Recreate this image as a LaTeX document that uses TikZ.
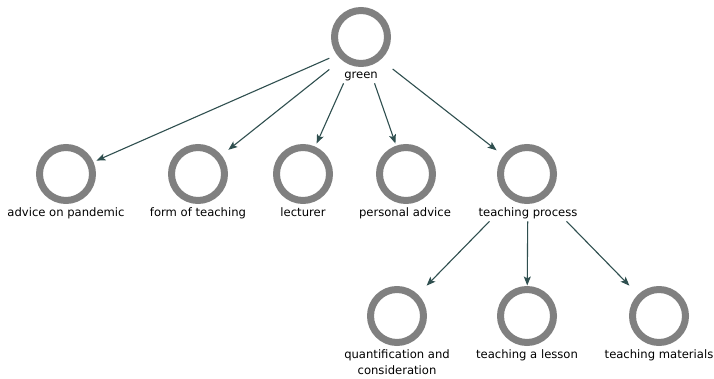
\documentclass[tikz,border=0pt]{standalone}
\usepackage{fontspec}
\setmainfont{DejaVu Sans}
\usetikzlibrary{arrows.meta,fit}
\definecolor{ringgray}{RGB}{128,128,128}
\definecolor{arrowcol}{RGB}{47,79,79}
\tikzset{
  ring/.style={rectangle, minimum size=60pt, inner sep=0pt, outer sep=0pt,
    path picture={\draw[ringgray, line width=7pt] (path picture bounding box.center) circle (26.5pt);}},
  lbl/.style={anchor=base, font=\fontsize{11.6}{15.5}\selectfont, inner sep=0pt, align=center},
  srcbox/.style={inner sep=1.5pt, draw=none},
  arr/.style={draw=arrowcol, line width=1.1pt, -{Stealth[length=9pt,width=7pt,inset=2pt]}, shorten >=0.5pt}
}
\begin{document}
\begin{tikzpicture}[x=1pt,y=-1pt]
\useasboundingbox[fill=white] (0,0) rectangle (714,379);
% circles
\node[ring] (g) at (361,37) {};
\node[ring] (adv) at (66,174) {};
\node[ring] (form) at (198,174) {};
\node[ring] (lect) at (303,174) {};
\node[ring] (pers) at (406,174) {};
\node[ring] (tp) at (527,174) {};
\node[ring] (quant) at (397,316) {};
\node[ring] (lesson) at (527,316) {};
\node[ring] (mat) at (659,316) {};
% labels
\node[lbl] (gl) at (361,79) {green};
\node[lbl] (advl) at (66,217) {advice on pandemic};
\node[lbl] (forml) at (198,217) {form of teaching};
\node[lbl] (lectl) at (303,217) {lecturer};
\node[lbl] (persl) at (405,217) {personal advice};
\node[lbl] (tpl) at (528,217) {teaching process};
\node[lbl] (quantl) at (397,374) {quantification and\\consideration};
\node[lbl] (lessonl) at (527,358) {teaching a lesson};
\node[lbl] (matl) at (659,358) {teaching materials};
% source boxes
\node[srcbox, fit=(g)(gl)] (gb) {};
\node[srcbox, fit=(tp)(tpl)] (tpb) {};
% connectors
\draw[arr] (gb) -- (adv);
\draw[arr] (gb) -- (form);
\draw[arr] (gb) -- (lect);
\draw[arr] (gb) -- (pers);
\draw[arr] (gb) -- (tp);
\draw[arr] (tpb) -- (quant);
\draw[arr] (tpb) -- (lesson);
\draw[arr] (tpb) -- (mat);
\end{tikzpicture}
\end{document}
